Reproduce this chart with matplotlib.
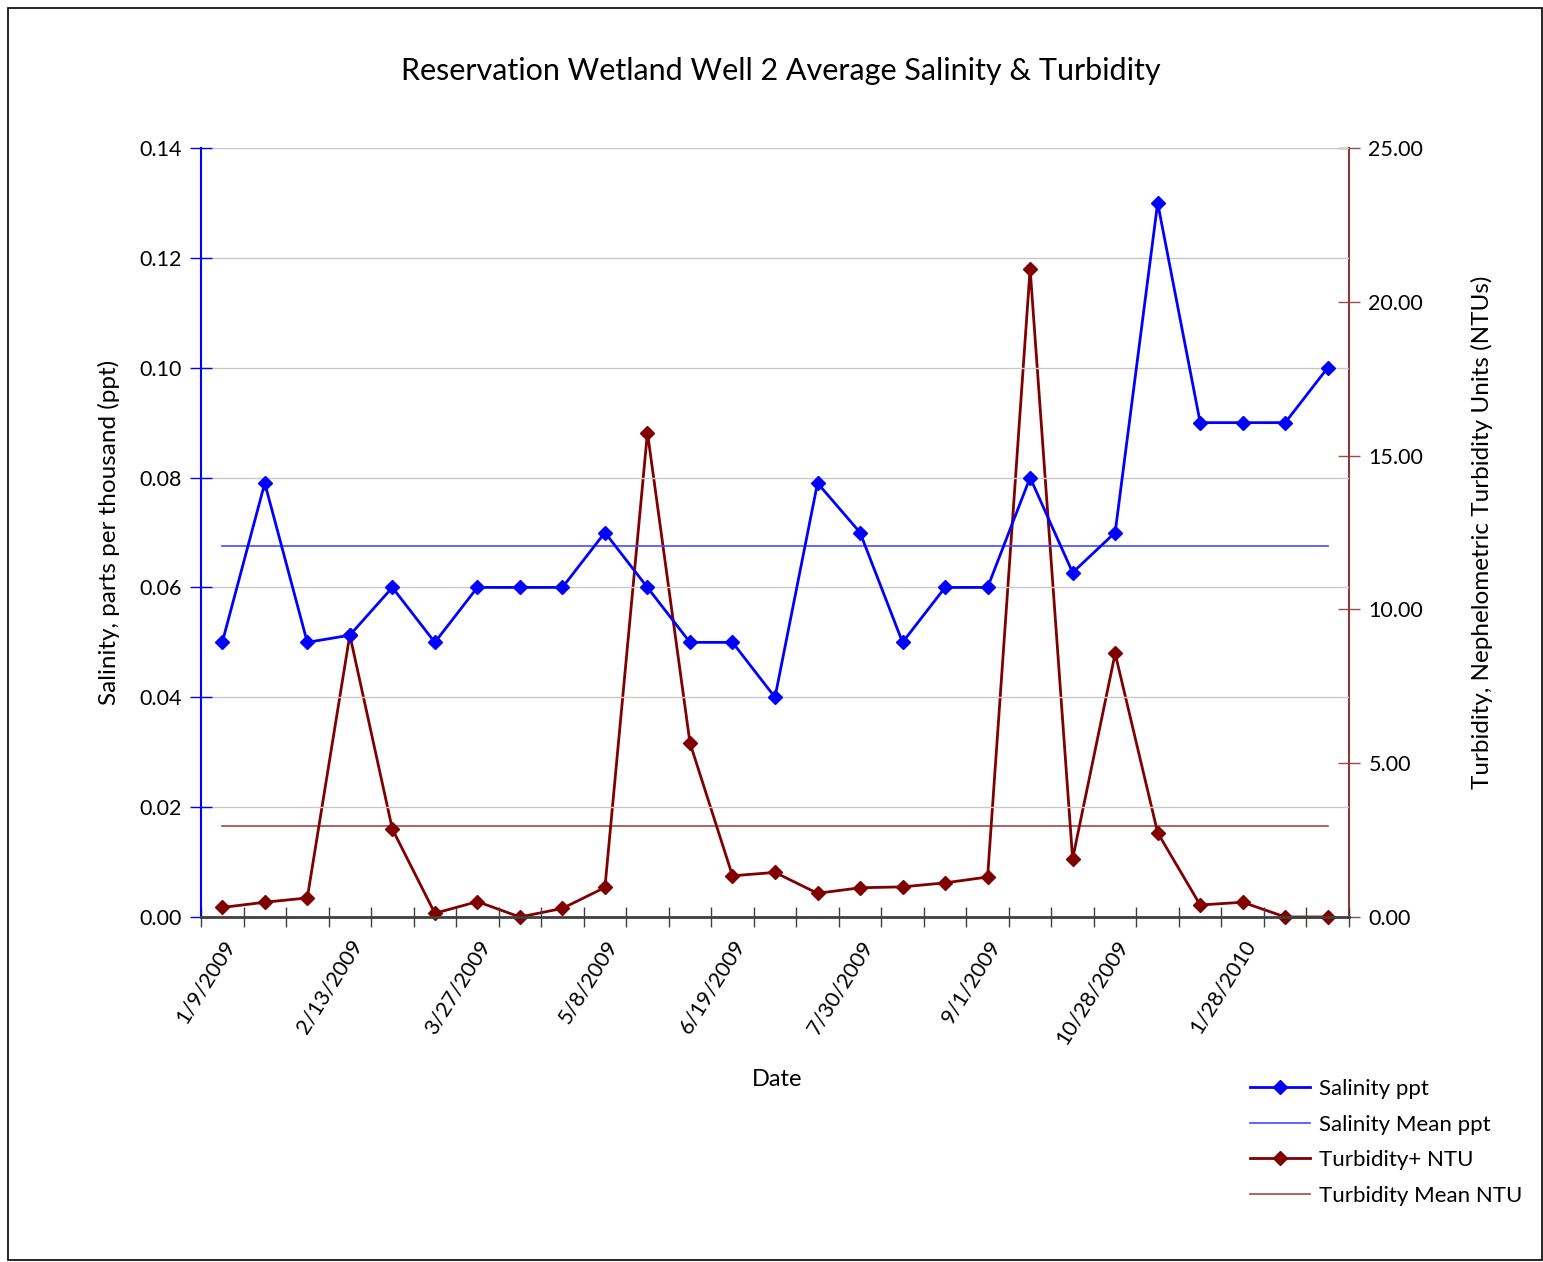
import matplotlib
matplotlib.use("Agg")
import matplotlib.pyplot as plt
from matplotlib.patches import Rectangle
from matplotlib.lines import Line2D

plt.rcParams['font.family'] = ['Lato', 'DejaVu Sans']

title = "Reservation Wetland Well 2 Average Salinity & Turbidity"
tick_labels = ["1/9/2009", "2/13/2009", "3/27/2009", "5/8/2009", "6/19/2009",
               "7/30/2009", "9/1/2009", "10/28/2009", "1/28/2010"]
label_every = 3

salinity = [0.050, 0.079, 0.050, 0.0513, 0.060, 0.050, 0.060, 0.060, 0.060,
            0.070, 0.060, 0.050, 0.050, 0.040, 0.079, 0.070, 0.050, 0.060,
            0.060, 0.080, 0.0627, 0.070, 0.130, 0.090, 0.090, 0.090, 0.100]
salinity_mean = 0.0675

turbidity = [0.31, 0.48, 0.62, 9.17, 2.86, 0.12, 0.50, 0.0, 0.28, 0.96,
             15.75, 5.66, 1.34, 1.45, 0.77, 0.95, 0.98, 1.11, 1.30, 21.07,
             1.89, 8.57, 2.74, 0.39, 0.48, 0.0, 0.0]
turbidity_mean = 2.95

BLUE = "#0000FF"
RED = "#800000"

fig = plt.figure(figsize=(15.43, 12.62), dpi=100)
ax = fig.add_axes([201/1543, 1-917/1262, (1349-201)/1543, (917-148)/1262])
ax2 = ax.twinx()

n = len(salinity)
x = list(range(n))

ax.set_xlim(-0.5, n - 0.5)
ax.set_ylim(0, 0.14)
ax2.set_ylim(0, 25)

TICK_FS = 15.5
ax.set_yticks([0.0, 0.02, 0.04, 0.06, 0.08, 0.10, 0.12, 0.14])
ax.set_yticklabels([f"{v:.2f}" for v in ax.get_yticks()], fontsize=TICK_FS)
ax.yaxis.grid(True, color="#c8c8c8", linewidth=1.0)
ax.set_axisbelow(True)
ax2.set_yticks([0, 5, 10, 15, 20, 25])
ax2.set_yticklabels([f"{v:.2f}" for v in ax2.get_yticks()], fontsize=TICK_FS)

ax.plot(x, salinity, color=BLUE, linewidth=2.0, marker="D", markersize=7,
        zorder=4, clip_on=False)
ax.plot([x[0], x[-1]], [salinity_mean, salinity_mean], color="#4a4aff",
        linewidth=1.2, zorder=3)
ax2.plot(x, turbidity, color=RED, linewidth=2.0, marker="D", markersize=7,
         zorder=4, clip_on=False)
ax2.plot([x[0], x[-1]], [turbidity_mean, turbidity_mean], color="#a04848",
         linewidth=1.2, zorder=3)

ax.set_xticks([i - 0.5 for i in range(n + 1)])
ax.set_xticklabels([])
ax.set_xticks(list(range(0, n, label_every))[:len(tick_labels)], minor=True)
ax.set_xticklabels(tick_labels, minor=True, rotation=58, ha="right",
                   va="top", rotation_mode="anchor", fontsize=TICK_FS)
ax.tick_params(axis="x", which="major", direction="inout", length=14,
               color="#404040", width=1.0)
ax.tick_params(axis="x", which="minor", length=0, pad=14)

ax.tick_params(axis="y", direction="inout", length=16, color=BLUE, width=1.0,
               pad=6)
ax2.tick_params(axis="y", direction="inout", length=16, color="#a04848",
                width=1.0, pad=6)

for s in ["top", "right"]:
    ax.spines[s].set_visible(False)
ax.spines["left"].set_color(BLUE)
ax.spines["left"].set_linewidth(1.5)
ax.spines["bottom"].set_color("#404040")
ax.spines["bottom"].set_linewidth(2.0)
ax2.spines["top"].set_visible(False)
ax2.spines["left"].set_visible(False)
ax2.spines["bottom"].set_visible(False)
ax2.spines["right"].set_color("#8b3a3a")
ax2.spines["right"].set_linewidth(1.5)

ax.set_zorder(ax2.get_zorder() + 1)
ax.patch.set_visible(False)

ax.set_ylabel("Salinity, parts per thousand (ppt)", fontsize=17.5, labelpad=14)
ax2.set_ylabel("Turbidity, Nephelometric Turbidity Units (NTUs)", fontsize=17.5,
               labelpad=34)
fig.text(777/1543, 1 - 1080/1262, "Date", fontsize=17, ha="center", va="center")
fig.text(781/1543, 1 - 71/1262, title, fontsize=22, ha="center", va="center")

handles = [
    Line2D([], [], color=BLUE, linewidth=2.0, marker="D", markersize=7),
    Line2D([], [], color="#4a4aff", linewidth=1.2),
    Line2D([], [], color=RED, linewidth=2.0, marker="D", markersize=7),
    Line2D([], [], color="#a04848", linewidth=1.2),
]
labels = ["Salinity ppt", "Salinity Mean ppt", "Turbidity+ NTU", "Turbidity Mean NTU"]
fig.legend(handles, labels, loc="upper left",
           bbox_to_anchor=(1250/1543, 1 - 1079/1262), frameon=False,
           fontsize=16, handlelength=2.7, labelspacing=0.7, handletextpad=0.4,
           borderpad=0, borderaxespad=0)

fig.patches.append(Rectangle((8/1543, 2/1262), 1 - 8/1543 - 1/1543, 1 - 10/1262,
                             transform=fig.transFigure, fill=False,
                             edgecolor="black", linewidth=1.2))

fig.savefig("out.png", dpi=100, facecolor="white")
